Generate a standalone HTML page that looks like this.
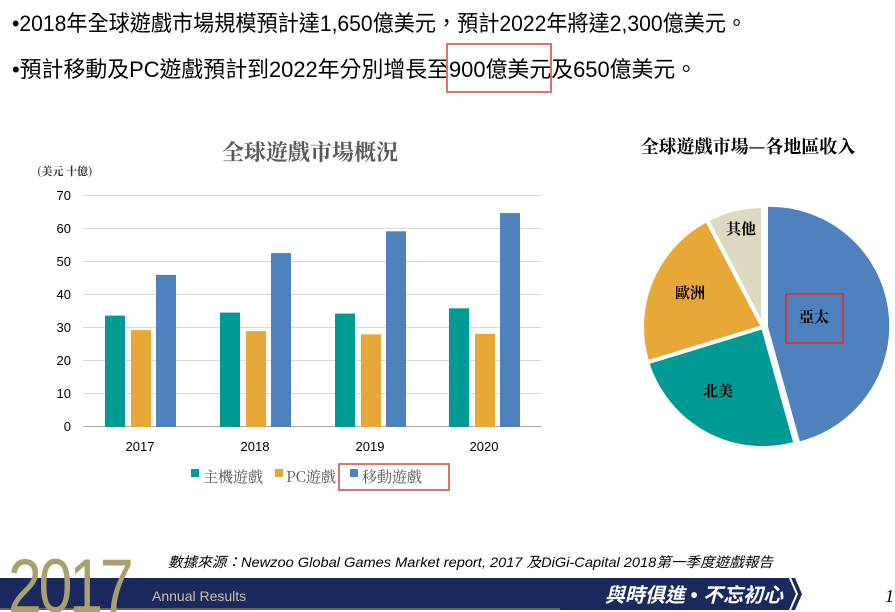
<!DOCTYPE html>
<html><head><meta charset="utf-8"><style>
body{margin:0;width:895px;height:612px;background:#fff;overflow:hidden;position:relative;font-family:"Liberation Sans","Noto Sans CJK TC",sans-serif}
.t{position:absolute;white-space:nowrap;transform-origin:0 0;transform:scaleX(0.96)}
</style></head><body>
<div class="t" style="left:12px;top:6px;font-size:22px;color:#000">•2018年全球遊戲市場規模預計達1,650億美元，預計2022年將達2,300億美元。</div>
<div class="t" style="left:12px;top:52px;font-size:22px;color:#000;transform:scaleX(0.995)">•預計移動及PC遊戲預計到2022年分別增長至900億美元及650億美元。</div>
<div style="position:absolute;left:446px;top:43px;width:106px;height:50px;border:2px solid #e07070;box-sizing:border-box"></div>

<svg width="895" height="612" style="position:absolute;left:0;top:0">
<text x="310" y="160" text-anchor="middle" font-family="Noto Serif CJK SC,serif" font-weight="bold" font-size="22" fill="#595959">全球遊戲市場概況</text>
<text x="37" y="175" font-family="Noto Serif CJK SC,serif" font-weight="bold" font-size="11" fill="#333">(美元 十億)</text>
<g stroke="#d9d9d9" stroke-width="1">
<line x1="83" x2="542" y1="195.5" y2="195.5"/><line x1="83" x2="542" y1="228.5" y2="228.5"/><line x1="83" x2="542" y1="261.5" y2="261.5"/><line x1="83" x2="542" y1="294.5" y2="294.5"/><line x1="83" x2="542" y1="327.5" y2="327.5"/><line x1="83" x2="542" y1="360.5" y2="360.5"/><line x1="83" x2="542" y1="393.5" y2="393.5"/>
</g>
<line x1="83" x2="542" y1="426.5" y2="426.5" stroke="#aaa"/>
<g font-size="13" fill="#000" text-anchor="end" font-family="Liberation Sans,sans-serif">
<text x="71" y="200">70</text><text x="71" y="233">60</text><text x="71" y="266">50</text><text x="71" y="299">40</text><text x="71" y="332">30</text><text x="71" y="365">20</text><text x="71" y="398">10</text><text x="71" y="431">0</text>
</g>
<g font-size="13" fill="#000" text-anchor="middle">
<text x="140" y="451">2017</text><text x="255" y="451">2018</text><text x="370" y="451">2019</text><text x="484" y="451">2020</text>
</g>
<g>
<rect x="105" y="315.6" width="20" height="111.4" fill="#009a94"/>
<rect x="131" y="330.1" width="20" height="96.9" fill="#e8a838"/>
<rect x="156" y="274.9" width="20" height="152.1" fill="#4f81bd"/>
<rect x="220" y="312.6" width="20" height="114.4" fill="#009a94"/>
<rect x="246" y="331.1" width="20" height="95.9" fill="#e8a838"/>
<rect x="271" y="253.1" width="20" height="173.9" fill="#4f81bd"/>
<rect x="335" y="313.6" width="20" height="113.4" fill="#009a94"/>
<rect x="361" y="334.4" width="20" height="92.6" fill="#e8a838"/>
<rect x="386" y="231.3" width="20" height="195.7" fill="#4f81bd"/>
<rect x="449" y="308.3" width="20" height="118.7" fill="#009a94"/>
<rect x="475" y="333.8" width="20" height="93.2" fill="#e8a838"/>
<rect x="500" y="213.1" width="20" height="213.9" fill="#4f81bd"/>
</g>
<g font-family="Noto Serif CJK SC,serif" font-size="15" fill="#555">
<rect x="191" y="469" width="8" height="8" fill="#009a94"/><text x="203" y="482">主機遊戲</text>
<rect x="275" y="469" width="8" height="8" fill="#e8a838"/><text x="286" y="482">PC遊戲</text>
<rect x="350" y="469" width="8" height="8" fill="#4f81bd"/><text x="362" y="482">移動遊戲</text>
</g>
<rect x="339" y="464" width="110" height="26" fill="none" stroke="#e07070" stroke-width="2"/>

<text x="748" y="153" text-anchor="middle" font-family="Noto Serif CJK SC,serif" font-weight="bold" font-size="18" fill="#000">全球遊戲市場—各地區收入</text>
<g stroke="#fff" stroke-width="4">
<path d="M766,327 L766,205 A121,121 0 0 1 798.4,443.6 Z" fill="#4f81bd"/>
<path d="M763,327 L795.6,443.6 A121,121 0 0 1 647.3,362.4 Z" fill="#009a94"/>
<path d="M763,327 L647.3,362.4 A121,121 0 0 1 706.9,219.9 Z" fill="#e8a838"/>
<path d="M763,327 L706.9,219.9 A121,121 0 0 1 763,206 Z" fill="#ddd9c3"/>
</g>
<g font-family="Noto Serif CJK SC,serif" font-size="15" font-weight="bold" fill="#000" text-anchor="middle">
<text x="741" y="234">其他</text><text x="690" y="298">歐洲</text><text x="814" y="322">亞太</text><text x="718" y="396">北美</text>
</g>
<rect x="786" y="294" width="57" height="49" fill="none" stroke="#c0404a" stroke-width="2"/>

<path d="M0,578 L795,578 L802,594 L795,610 L0,610 Z" fill="#1b2a5e"/>
<path d="M790,578 L797,594 L790,610" fill="none" stroke="#fff" stroke-width="2"/>
<text x="0" y="0" transform="translate(8,612) scale(0.8,1)" font-family="Liberation Sans,sans-serif" font-size="76" fill="#a9a070" letter-spacing="-4">2017</text>
<line x1="0" x2="560" y1="609" y2="609" stroke="#a9a070"/>
<text x="152" y="601" font-size="14" fill="#c8c0a0">Annual Results</text>
<text x="168" y="567" font-size="14" font-style="italic" fill="#000" textLength="605" lengthAdjust="spacingAndGlyphs">數據來源：Newzoo Global Games Market report, 2017 及DiGi-Capital 2018第一季度遊戲報告</text>
<text x="783" y="602" text-anchor="end" font-size="20" font-weight="bold" font-style="italic" fill="#fff">與時俱進 • 不忘初心</text>
<text x="885" y="602" font-family="Liberation Serif,serif" font-size="18" font-style="italic" fill="#000">1</text>
</svg>
</body></html>
